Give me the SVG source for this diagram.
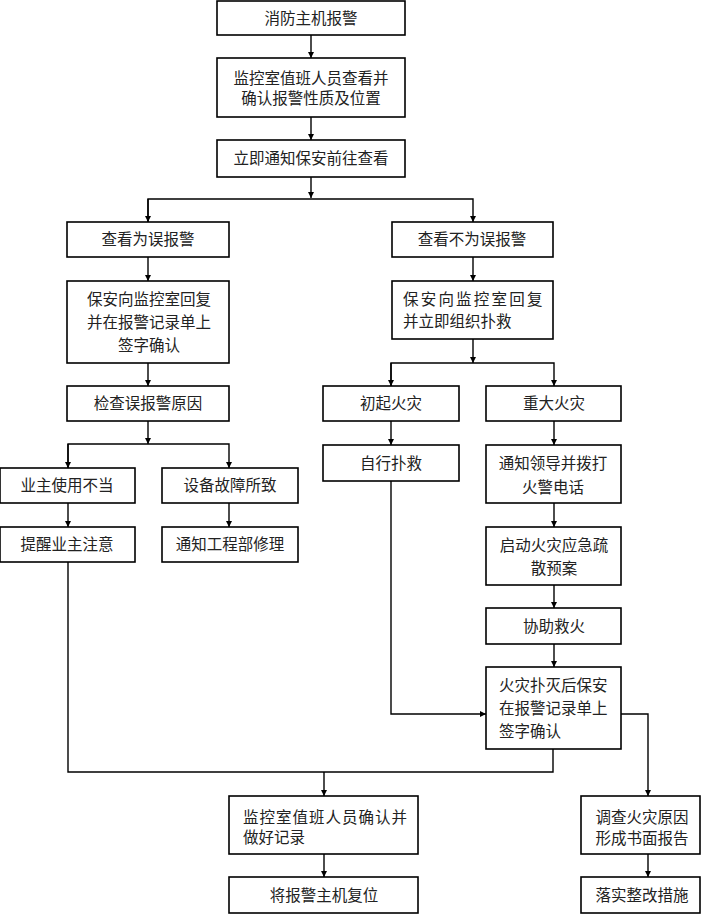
<svg xmlns="http://www.w3.org/2000/svg" width="703" height="915" viewBox="0 0 703 915">
<style>
.box rect{fill:#fff;stroke:#000;stroke-width:1.6}
.box text{font-family:"Liberation Serif","Noto Sans CJK SC",serif;font-size:15.5px;fill:#222}
.c{text-anchor:middle}
#connectors path{fill:none;stroke:#000;stroke-width:1.4}
</style>
<defs>
<marker id="ah" viewBox="0 0 10 10" refX="10" refY="5" markerWidth="6" markerHeight="6" markerUnits="userSpaceOnUse" orient="auto">
<path d="M0,0 L10,5 L0,10 z" fill="#000"/>
</marker>
</defs>
<rect width="703" height="915" fill="#fff"/>
<g id="connectors">
<path d="M311,35 V58" marker-end="url(#ah)"/>
<path d="M311,117 V140" marker-end="url(#ah)"/>
<path d="M311,177 V198" marker-end="url(#ah)"/>
<path d="M148,222 V199 H473 V222" marker-end="url(#ah)"/>
<path d="M148,199 V222" marker-end="url(#ah)"/>
<path d="M148,257 V281" marker-end="url(#ah)"/>
<path d="M148,363 V386" marker-end="url(#ah)"/>
<path d="M148,421 V444" marker-end="url(#ah)"/>
<path d="M68,468 V444 H229 V468" marker-end="url(#ah)"/>
<path d="M68,444 V468" marker-end="url(#ah)"/>
<path d="M68,503 V527" marker-end="url(#ah)"/>
<path d="M229,503 V527" marker-end="url(#ah)"/>
<path d="M473,257 V281" marker-end="url(#ah)"/>
<path d="M473,339 V363" marker-end="url(#ah)"/>
<path d="M391,386 V363 H554 V386" marker-end="url(#ah)"/>
<path d="M391,363 V386" marker-end="url(#ah)"/>
<path d="M391,421 V445" marker-end="url(#ah)"/>
<path d="M554,421 V445" marker-end="url(#ah)"/>
<path d="M554,503 V527" marker-end="url(#ah)"/>
<path d="M554,585 V608" marker-end="url(#ah)"/>
<path d="M554,644 V667" marker-end="url(#ah)"/>
<path d="M391,481 V714 H486" marker-end="url(#ah)"/>
<path d="M621,714 H648 V796" marker-end="url(#ah)"/>
<path d="M68,562 V772 H553 V749"/>
<path d="M324,772 V796" marker-end="url(#ah)"/>
<path d="M324,854 V877" marker-end="url(#ah)"/>
<path d="M648,854 V877" marker-end="url(#ah)"/>
</g>
<g id="n1" class="box"><rect x="217" y="1" width="188" height="34"/><text class="c" x="311" y="23.5">消防主机报警</text></g>
<g id="n2" class="box"><rect x="217" y="58" width="188" height="59"/><text class="c" x="311" y="83.5">监控室值班人员查看并</text><text class="c" x="311" y="104">确认报警性质及位置</text></g>
<g id="n3" class="box"><rect x="217" y="140" width="188" height="37"/><text class="c" x="311" y="164">立即通知保安前往查看</text></g>
<g id="n4" class="box"><rect x="67" y="222" width="162" height="35"/><text class="c" x="148" y="245">查看为误报警</text></g>
<g id="n5" class="box"><rect x="67" y="281" width="162" height="82"/><text class="c" x="149" y="304.5">保安向监控室回复</text><text class="c" x="149" y="328">并在报警记录单上</text><text class="c" x="149" y="351">签字确认</text></g>
<g id="n6" class="box"><rect x="67" y="386" width="162" height="35"/><text class="c" x="148" y="409">检查误报警原因</text></g>
<g id="n7" class="box"><rect x="0" y="468" width="135" height="35"/><text class="c" x="67" y="491">业主使用不当</text></g>
<g id="n8" class="box"><rect x="162" y="468" width="136" height="35"/><text class="c" x="230" y="491">设备故障所致</text></g>
<g id="n9" class="box"><rect x="0" y="527" width="135" height="35"/><text class="c" x="67" y="550">提醒业主注意</text></g>
<g id="n10" class="box"><rect x="162" y="527" width="136" height="35"/><text class="c" x="230" y="550">通知工程部修理</text></g>
<g id="n11" class="box"><rect x="392" y="222" width="161" height="35"/><text class="c" x="472" y="245">查看不为误报警</text></g>
<g id="n12" class="box"><rect x="392" y="281" width="161" height="58"/><text x="403" y="304.5" letter-spacing="2.2">保安向监控室回复</text><text x="403" y="326.5">并立即组织扑救</text></g>
<g id="n13" class="box"><rect x="323" y="386" width="136" height="35"/><text class="c" x="391" y="409">初起火灾</text></g>
<g id="n14" class="box"><rect x="486" y="386" width="135" height="35"/><text class="c" x="554" y="409">重大火灾</text></g>
<g id="n15" class="box"><rect x="323" y="445" width="136" height="36"/><text class="c" x="391" y="468.5">自行扑救</text></g>
<g id="n16" class="box"><rect x="486" y="445" width="135" height="58"/><text class="c" x="553" y="468.5">通知领导并拨打</text><text class="c" x="553" y="492.5">火警电话</text></g>
<g id="n17" class="box"><rect x="486" y="527" width="135" height="58"/><text class="c" x="554" y="550.5">启动火灾应急疏</text><text class="c" x="554" y="573.5">散预案</text></g>
<g id="n18" class="box"><rect x="486" y="608" width="135" height="36"/><text class="c" x="554" y="631.5">协助救火</text></g>
<g id="n19" class="box"><rect x="486" y="667" width="135" height="82"/><text x="499" y="690.5">火灾扑灭后保安</text><text x="499" y="713.5">在报警记录单上</text><text x="499" y="736.5">签字确认</text></g>
<g id="n20" class="box"><rect x="229" y="796" width="189" height="58"/><text x="243" y="822.5" letter-spacing="1">监控室值班人员确认并</text><text x="243" y="843">做好记录</text></g>
<g id="n21" class="box"><rect x="229" y="877" width="189" height="36"/><text class="c" x="324" y="900.5">将报警主机复位</text></g>
<g id="n22" class="box"><rect x="581" y="796" width="119" height="58"/><text class="c" x="642" y="822.5">调查火灾原因</text><text class="c" x="642" y="843.5">形成书面报告</text></g>
<g id="n23" class="box"><rect x="581" y="877" width="119" height="36"/><text class="c" x="642" y="900.5">落实整改措施</text></g>
</svg>
